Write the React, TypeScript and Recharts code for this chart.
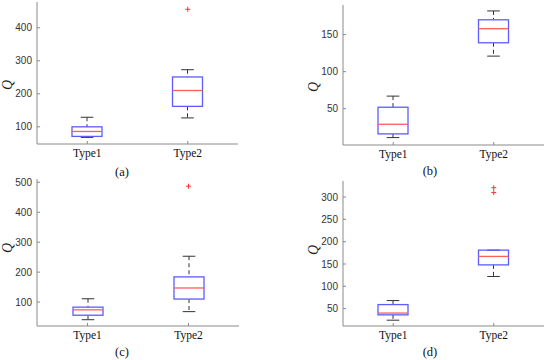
import React from 'react';
import { ComposedChart, Bar, Scatter, XAxis, YAxis } from 'recharts';

const categories = ['Type1', 'Type2'];

// panel (a)
const aMin = [68, 127];
const aQ1 = [71, 162];
const aMed = [86, 210];
const aQ3 = [100, 251];
const aMax = [129, 273];
const aOut1: (number | null)[] = [null, 456];
const aOut2: (number | null)[] = [null, null];
const aTicks = [100, 200, 300, 400];
const aDomain = [48, 478];

// panel (b)
const bMin = [11, 121];
const bQ1 = [16, 139];
const bMed = [29, 158];
const bQ3 = [52, 170];
const bMax = [67, 182];
const bOut1: (number | null)[] = [null, null];
const bOut2: (number | null)[] = [null, null];
const bTicks = [50, 100, 150];
const bDomain = [1, 190];

// panel (c)
const cMin = [41, 68];
const cQ1 = [56, 110];
const cMed = [74, 147];
const cQ3 = [83, 184];
const cMax = [111, 253];
const cOut1: (number | null)[] = [null, 487];
const cOut2: (number | null)[] = [null, null];
const cTicks = [100, 200, 300, 400, 500];
const cDomain = [20, 511];

// panel (d)
const dMin = [24, 122];
const dQ1 = [36, 148];
const dMed = [40, 167];
const dQ3 = [59, 181];
const dMax = [68, 181];
const dOut1: (number | null)[] = [null, 321];
const dOut2: (number | null)[] = [null, 310];
const dTicks = [50, 100, 150, 200, 250, 300];
const dDomain = [11, 336];

const panelLabels = ['(a)', '(b)', '(c)', '(d)'];
const yLabel = 'Q';

const FRAME = '#8a8a8a';
const BOX = '#5c5cff';
const MED = '#ff5c5c';
const SERIF = "'Liberation Serif', 'Times New Roman', Times, serif";
const SANS = "'Liberation Sans', Arial, Helvetica, sans-serif";

const buildRows = (
  mn: number[],
  q1: number[],
  md: number[],
  q3: number[],
  mx: number[],
  o1: (number | null)[],
  o2: (number | null)[]
) =>
  categories.map((c, i) => ({
    cat: c,
    min: mn[i],
    q1: q1[i],
    med: md[i],
    q3: q3[i],
    max: mx[i],
    out1: o1[i],
    out2: o2[i],
  }));

const BoxShape = (props: any) => {
  const { x, y, width, height, payload } = props;
  if (payload == null) return <g />;
  const top = Math.min(y, y + height);
  const bot = Math.max(y, y + height);
  const { min, q1, med, q3, max } = payload;
  const py = (v: number) => bot - ((v - min) / (max - min)) * (bot - top);
  const cx = x + width / 2;
  const capW = width * 0.42;
  const yQ1 = py(q1);
  const yQ3 = py(q3);
  const yMed = py(med);
  return (
    <g>
      <line x1={cx} x2={cx} y1={top} y2={yQ3} stroke="#333" strokeWidth={1} strokeDasharray="4 3" />
      <line x1={cx} x2={cx} y1={yQ1} y2={bot} stroke="#333" strokeWidth={1} strokeDasharray="4 3" />
      <line x1={cx - capW / 2} x2={cx + capW / 2} y1={top} y2={top} stroke="#333" strokeWidth={1} />
      <line x1={cx - capW / 2} x2={cx + capW / 2} y1={bot} y2={bot} stroke="#333" strokeWidth={1} />
      <rect x={x} y={yQ3} width={width} height={yQ1 - yQ3} fill="none" stroke={BOX} strokeWidth={1.3} />
      <line x1={x} x2={x + width} y1={yMed} y2={yMed} stroke={MED} strokeWidth={1.3} />
    </g>
  );
};

const PlusShape = (props: any) => {
  const { cx, cy, payload, dataKey } = props;
  if (!Number.isFinite(cx) || !Number.isFinite(cy)) return <g />;
  if (payload && dataKey && payload[dataKey] == null) return <g />;
  const s = 2.5;
  return (
    <g>
      <line x1={cx - s} x2={cx + s} y1={cy} y2={cy} stroke="#ff3030" strokeWidth={1} />
      <line x1={cx} x2={cx} y1={cy - s} y2={cy + s} stroke="#ff3030" strokeWidth={1} />
    </g>
  );
};

const emptyTick = () => <g />;

type PanelProps = {
  rows: any[];
  ticks: number[];
  domain: number[];
  plot: { x0: number; x1: number; y0: number; y1: number };
  label: string;
  labelPos: { x: number; y: number };
  qPos: { x: number; y: number };
};

const Panel = ({ rows, ticks, domain, plot, label, labelPos, qPos }: PanelProps) => {
  const padL = 40;
  const padT = 5;
  const padR = 5;
  const padB = 40;
  const w = plot.x1 - plot.x0 + padL + padR;
  const h = plot.y1 - plot.y0 + padT + padB;
  const yAxisW = 30;
  const xAxisH = 20;
  return (
    <>
      <div style={{ position: 'absolute', left: plot.x0 - padL, top: plot.y0 - padT, width: w, height: h }}>
        <ComposedChart
          width={w}
          height={h}
          data={rows}
          margin={{ top: padT, right: padR, bottom: padB - xAxisH, left: padL - yAxisW }}
        >
          <XAxis
            dataKey="cat"
            height={xAxisH}
            axisLine={{ stroke: FRAME }}
            tickLine={{ stroke: FRAME }}
            tickSize={-3}
            tickMargin={8}
            tick={{ fontFamily: SERIF, fontSize: 11.5, fill: '#111' }}
          />
          <XAxis
            xAxisId="top"
            dataKey="cat"
            orientation="top"
            height={0}
            axisLine={{ stroke: FRAME }}
            tickLine={{ stroke: FRAME }}
            tickSize={-3}
            tick={emptyTick}
          />
          <YAxis
            type="number"
            domain={domain}
            ticks={ticks}
            interval={0}
            allowDataOverflow
            width={yAxisW}
            axisLine={{ stroke: FRAME }}
            tickLine={{ stroke: FRAME }}
            tickSize={-3}
            tickMargin={8}
            tick={{ fontFamily: SANS, fontSize: 10, fill: '#333' }}
          />
          <YAxis
            yAxisId="right"
            orientation="right"
            type="number"
            domain={domain}
            ticks={ticks}
            interval={0}
            allowDataOverflow
            width={0}
            axisLine={{ stroke: FRAME }}
            tickLine={{ stroke: FRAME }}
            tickSize={-3}
            tick={emptyTick}
          />
          <Bar
            dataKey={(d: any) => [d.min, d.max]}
            barSize={30}
            shape={BoxShape}
            isAnimationActive={false}
          />
          <Scatter dataKey="out1" shape={PlusShape} isAnimationActive={false} />
          <Scatter dataKey="out2" shape={PlusShape} isAnimationActive={false} />
        </ComposedChart>
      </div>
      <div
        style={{
          position: 'absolute',
          left: labelPos.x - 20,
          top: labelPos.y - 8,
          width: 40,
          textAlign: 'center',
          fontFamily: SERIF,
          fontSize: 12.5,
          lineHeight: '16px',
          color: '#111',
        }}
      >
        {label}
      </div>
      <div
        style={{
          position: 'absolute',
          left: qPos.x - 10,
          top: qPos.y - 8,
          width: 20,
          height: 16,
          textAlign: 'center',
          fontFamily: SERIF,
          fontStyle: 'italic',
          fontSize: 14,
          lineHeight: '16px',
          color: '#222',
          transform: 'rotate(-90deg)',
        }}
      >
        {yLabel}
      </div>
    </>
  );
};

export default function App() {
  return (
    <div style={{ position: 'absolute', left: 0, top: 0, width: 550, height: 360, background: '#fff', overflow: 'hidden' }}>
      <Panel
        rows={buildRows(aMin, aQ1, aMed, aQ3, aMax, aOut1, aOut2)}
        ticks={aTicks}
        domain={aDomain}
        plot={{ x0: 37, x1: 238, y0: 2, y1: 144 }}
        label={panelLabels[0]}
        labelPos={{ x: 122, y: 172 }}
        qPos={{ x: 8, y: 85 }}
      />
      <Panel
        rows={buildRows(bMin, bQ1, bMed, bQ3, bMax, bOut1, bOut2)}
        ticks={bTicks}
        domain={bDomain}
        plot={{ x0: 343, x1: 544, y0: 5, y1: 145 }}
        label={panelLabels[1]}
        labelPos={{ x: 430, y: 171 }}
        qPos={{ x: 314, y: 87 }}
      />
      <Panel
        rows={buildRows(cMin, cQ1, cMed, cQ3, cMax, cOut1, cOut2)}
        ticks={cTicks}
        domain={cDomain}
        plot={{ x0: 37, x1: 239, y0: 179, y1: 326 }}
        label={panelLabels[2]}
        labelPos={{ x: 122, y: 352 }}
        qPos={{ x: 8, y: 248 }}
      />
      <Panel
        rows={buildRows(dMin, dQ1, dMed, dQ3, dMax, dOut1, dOut2)}
        ticks={dTicks}
        domain={dDomain}
        plot={{ x0: 343, x1: 544, y0: 181, y1: 326 }}
        label={panelLabels[3]}
        labelPos={{ x: 430, y: 352 }}
        qPos={{ x: 314, y: 250 }}
      />
    </div>
  );
}
